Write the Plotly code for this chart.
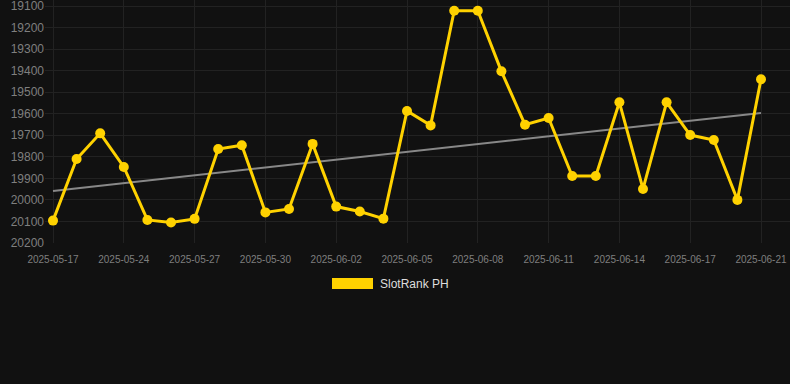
import numpy as np
import plotly.graph_objects as go

dates = ["2025-05-17", "2025-05-19", "2025-05-22", "2025-05-24", "2025-05-25", "2025-05-26",
         "2025-05-27", "2025-05-28", "2025-05-29", "2025-05-30", "2025-05-31", "2025-06-01",
         "2025-06-02", "2025-06-03", "2025-06-04", "2025-06-05", "2025-06-06", "2025-06-07",
         "2025-06-08", "2025-06-09", "2025-06-10", "2025-06-11", "2025-06-12", "2025-06-13",
         "2025-06-14", "2025-06-15", "2025-06-16", "2025-06-17", "2025-06-18", "2025-06-20",
         "2025-06-21"]
ranks = [20096, 19810, 19691, 19847, 20093, 20105, 20088, 19764, 19746, 20058, 20042, 19740,
         20031, 20054, 20087, 19587, 19654, 19122, 19122, 19403, 19651, 19620, 19889, 19889,
         19547, 19949, 19547, 19699, 19722, 20000, 19440]
y_ticks = [19100, 19200, 19300, 19400, 19500, 19600, 19700, 19800, 19900, 20000, 20100, 20200]
y_tick_text = [str(v) for v in y_ticks]
series_name = "SlotRank PH"

idx = np.arange(len(ranks))
slope, intercept = np.polyfit(idx, ranks, 1)
trend = [intercept, intercept + slope * idx[-1]]

GOLD = "#FFD200"
BG = "#111111"
W, H = 790, 384
L, R, T, B = 45, 0, 0, 141
pw, ph = W - L - R, H - T - B

def px(x):
    return (x - L) / pw

def py(y):
    return (H - B - y) / ph

fig = go.Figure()
fig.add_trace(go.Scatter(x=[dates[0], dates[-1]], y=trend, mode="lines",
                         line=dict(color="#888888", width=2), showlegend=False,
                         hoverinfo="skip"))
fig.add_trace(go.Scatter(x=dates, y=ranks, mode="lines+markers", name=series_name,
                         line=dict(color=GOLD, width=3),
                         marker=dict(color=GOLD, size=10), showlegend=False))

fig.update_layout(
    width=W, height=H,
    margin=dict(l=L, r=R, t=T, b=B),
    paper_bgcolor=BG, plot_bgcolor=BG,
    font=dict(family="Liberation Sans, Arial, sans-serif", color="#7f7f7f"),
    shapes=[dict(type="rect", xref="paper", yref="paper",
                 x0=px(332), x1=px(373), y0=py(289), y1=py(278),
                 fillcolor=GOLD, line=dict(width=0))],
    annotations=[dict(text=series_name, xref="paper", yref="paper",
                      x=px(378), y=py(284), xanchor="left", yanchor="middle",
                      showarrow=False, font=dict(size=12, color="#dddddd"))],
)
fig.update_xaxes(type="category", categoryorder="array", categoryarray=dates,
                 range=[-(53 - L) / 23.6, len(dates) - 1 + (W - R - 761) / 23.6],
                 tickvals=dates[::3], ticktext=dates[::3],
                 tickfont=dict(size=10, color="#7f7f7f"),
                 ticklabelstandoff=9, ticklabeloverflow="allow",
                 showgrid=True, gridcolor="#222222", gridwidth=1,
                 zeroline=False, showline=False, ticks="")
fig.update_yaxes(range=[20200, 19072], tickvals=y_ticks, ticktext=y_tick_text,
                 tickfont=dict(size=12, color="#7f7f7f"),
                 ticklabeloverflow="allow",
                 showgrid=True, gridcolor="#222222", gridwidth=1,
                 zeroline=False, showline=False, ticks="")

fig.write_html("out.html")
